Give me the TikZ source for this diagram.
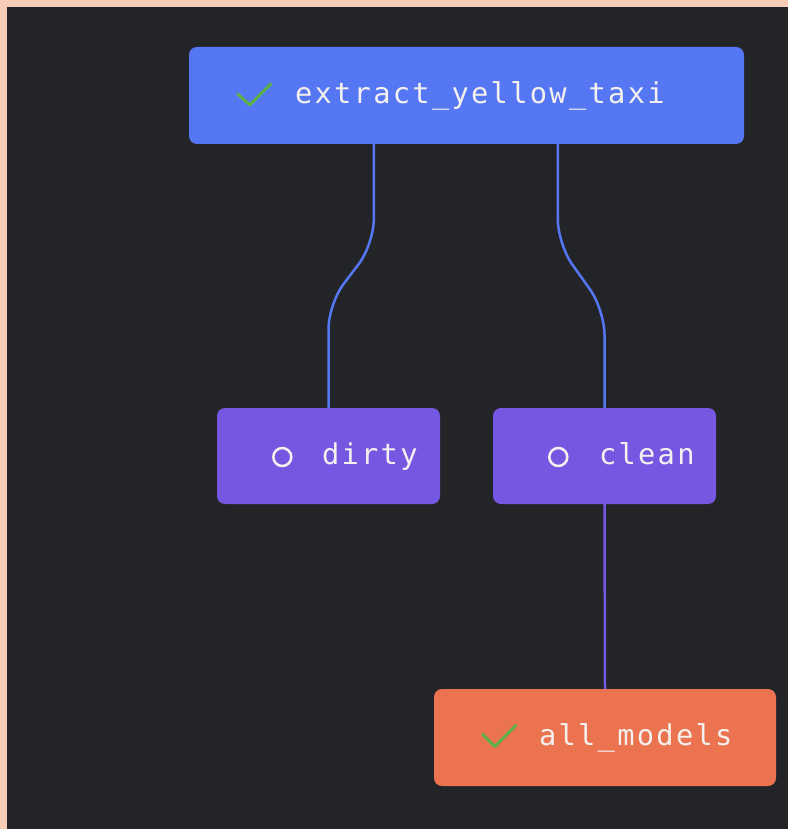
\documentclass[tikz,border=0pt]{standalone}
\usepackage{fontspec}
\usepackage{tikz}
\usetikzlibrary{calc}

\newfontfamily\taskfont[LetterSpace=8]{DejaVu Sans Mono}

\definecolor{pagepeach}{HTML}{F7CDB7}
\definecolor{canvasgray}{HTML}{232427}
\definecolor{taskblue}{HTML}{5677F3}
\definecolor{taskpurple}{HTML}{7657E2}
\definecolor{taskorange}{HTML}{EB7350}
\definecolor{okgreen}{HTML}{5CB048}
\definecolor{labelwhite}{HTML}{F4F0EE}

\begin{document}
\begin{tikzpicture}[x=1pt, y=-1pt,
    task/.style={rectangle, rounded corners=8pt, inner sep=0pt, minimum height=97pt},
    tasklabel/.style={anchor=base west, inner sep=0pt, text=labelwhite, font=\taskfont\fontsize{28.7}{30}\selectfont},
    okmark/.style={draw=okgreen, line width=3pt, line cap=round, line join=round},
    pending/.style={draw=labelwhite, line width=2.5pt},
    link/.style={line width=2.5pt, rounded corners=25pt}]
    \useasboundingbox (0,0) rectangle (788,829);
    \fill [pagepeach] (0,0) rectangle (788,829);
    \fill [canvasgray] (7,7) rectangle (788,829);

    \node (extract) [task, fill=taskblue, minimum width=555pt] at (466.5,95.5) {};
    \node (dirty) [task, fill=taskpurple, minimum width=223pt, minimum height=96pt] at (328.5,456) {};
    \node (clean) [task, fill=taskpurple, minimum width=223pt, minimum height=96pt] at (604.5,456) {};
    \node (models) [task, fill=taskorange, minimum width=342pt] at (605,737.5) {};

    \draw [link, taskblue] ($(extract.south west)+(185,0)$) -- ++(0,100) -- ($(dirty.north)+(0,-104)$) -- (dirty.north);
    \draw [link, taskblue] ($(extract.south west)+(369,0)$) -- ++(0,100) -- ($(clean.north)+(0,-98)$) -- (clean.north);
    \draw [link, taskpurple] (clean.south) -- (models.north);

    \draw [okmark] ($(extract.west)+(49,-1.5)$) -- ++(12,11) -- ++(21,-21);
    \node (extracttext) [tasklabel] at ($(extract.west)+(106,8)$) {extract\_yellow\_taxi};

    \draw [pending] ($(dirty.west)+(65.5,1)$) circle (9);
    \node (dirtytext) [tasklabel] at ($(dirty.west)+(105,8)$) {dirty};

    \draw [pending] ($(clean.west)+(65.5,1)$) circle (9);
    \node (cleantext) [tasklabel] at ($(clean.west)+(106,8)$) {clean};

    \draw [okmark] ($(models.west)+(49,-3)$) -- ++(12,12) -- ++(21,-21);
    \node (modelstext) [tasklabel] at ($(models.west)+(105,8)$) {all\_models};
\end{tikzpicture}
\end{document}
